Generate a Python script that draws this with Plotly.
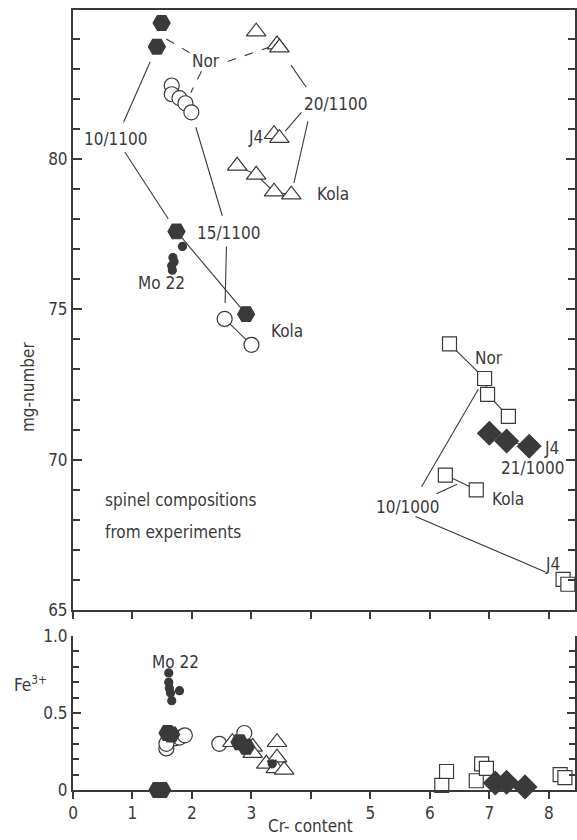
import plotly.graph_objects as go

# ---- upper panel: mg-number vs Cr-content ----
hex_x = [1.49, 1.41, 1.74, 2.91]          # 10/1100 runs (filled hexagons)
hex_y = [84.52, 83.73, 77.59, 74.84]
mo_x = [1.84, 1.68, 1.70, 1.66, 1.67]     # Mo 22 (small filled dots)
mo_y = [77.09, 76.72, 76.58, 76.45, 76.30]
circ_x = [1.66, 1.66, 1.79, 1.89, 1.99]   # 15/1100 Nor (open circles)
circ_y = [82.44, 82.15, 82.02, 81.85, 81.55]
circk_x = [2.55, 3.00]                    # 15/1100 Kola
circk_y = [74.68, 73.82]
tri_x = [3.08, 3.43, 3.47]                # 20/1100 Nor (open triangles)
tri_y = [84.23, 83.80, 83.70]
trij_x = [3.38, 3.47]                     # 20/1100 J4
trij_y = [80.82, 80.69]
trik_x = [2.76, 3.08, 3.38, 3.67]         # 20/1100 Kola
trik_y = [79.77, 79.47, 78.91, 78.81]
sqn_x = [6.33, 6.92, 6.97, 7.32]          # 10/1000 Nor (open squares)
sqn_y = [73.85, 72.70, 72.17, 71.44]
sqk_x = [6.26, 6.78]                      # 10/1000 Kola
sqk_y = [69.49, 69.00]
sqj_x = [8.24, 8.32]                      # 10/1000 J4
sqj_y = [66.02, 65.86]
dia_x = [7.00, 7.29, 7.67]                # 21/1000 J4 (filled diamonds)
dia_y = [70.88, 70.62, 70.45]

# ---- lower panel: Fe3+ vs Cr-content ----
b_dot_x = [1.61, 1.61, 1.62, 1.64, 1.66, 1.79, 3.35]
b_dot_y = [0.76, 0.70, 0.66, 0.63, 0.58, 0.645, 0.17]
b_hex_x = [1.59, 1.65, 1.42, 1.50, 2.80, 2.91]
b_hex_y = [0.37, 0.36, 0.0, 0.0, 0.31, 0.28]
b_circ_x = [1.57, 1.60, 1.71, 1.79, 1.88, 1.57, 2.46, 2.88]
b_circ_y = [0.27, 0.32, 0.335, 0.34, 0.355, 0.30, 0.30, 0.37]
b_tri_x = [2.68, 3.02, 3.02, 3.25, 3.43, 3.43, 3.41, 3.55]
b_tri_y = [0.31, 0.28, 0.24, 0.17, 0.31, 0.21, 0.14, 0.13]
b_sq_x = [6.28, 6.20, 6.78, 6.87, 6.95, 8.19, 8.27]
b_sq_y = [0.12, 0.03, 0.06, 0.17, 0.14, 0.10, 0.08]
b_dia_x = [7.10, 7.29, 7.60]
b_dia_y = [0.045, 0.05, 0.02]

# labelled x ticks (4 sits under the axis title, so it only gets a tick mark)
x_ticks = [0, 1, 2, 3, 5, 6, 7, 8]
x_ticktext = ["0", "1", "2", "3", "5", "6", "7", "8"]

INK = "#3a3a3a"
FONT = "Liberation Sans Narrow, DejaVu Sans Condensed, Liberation Sans, sans-serif"
FS = 17

fig = go.Figure()


def pt(xs, ys, i):
    return xs[i], ys[i]


def mid(a, b):
    return (a[0] + b[0]) / 2, (a[1] + b[1]) / 2


def leader(start, target, t, dash="solid"):
    x0, y0 = start
    x1, y1 = target
    fig.add_trace(go.Scatter(
        x=[x0, x0 + (x1 - x0) * t], y=[y0, y0 + (y1 - y0) * t],
        mode="lines", line=dict(color=INK, width=1.1, dash=dash),
        xaxis="x2", yaxis="y2", hoverinfo="skip", showlegend=False))


def link(xs, ys, axis=("x2", "y2")):
    fig.add_trace(go.Scatter(x=xs, y=ys, mode="lines",
                             line=dict(color=INK, width=1.1),
                             xaxis=axis[0], yaxis=axis[1],
                             hoverinfo="skip", showlegend=False))


# leader lines from labels to the runs they name
leader((0.85, 81.22), pt(hex_x, hex_y, 1), 0.80)
leader((0.87, 80.23), pt(hex_x, hex_y, 2), 0.84)
leader((1.96, 83.53), mid(pt(hex_x, hex_y, 0), pt(hex_x, hex_y, 1)), 0.83, "dash")
leader((2.60, 83.24), pt(tri_x, tri_y, 1), 0.85, "dash")
leader((2.16, 82.91), pt(circ_x, circ_y, 3), 0.66, "dash")
leader((2.51, 78.11), pt(circ_x, circ_y, 4), 0.855)
leader((2.58, 77.09), pt(circk_x, circk_y, 0), 0.78)
leader((3.92, 82.38), pt(tri_x, tri_y, 1), 0.52)
leader((3.84, 81.55), pt(trij_x, trij_y, 1), 0.73)
leader((3.95, 81.25), pt(trik_x, trik_y, 3), 0.84)
leader((5.86, 69.10), pt(sqn_x, sqn_y, 1), 0.90)
leader((6.11, 68.87), mid(pt(sqk_x, sqk_y, 0), pt(sqk_x, sqk_y, 1)), 0.85)
leader((5.76, 68.11), pt(sqj_x, sqj_y, 0), 0.88)

# lines joining members of one run
link(hex_x[2:4], hex_y[2:4])
link(circk_x, circk_y)
link(trik_x, trik_y)
link(sqn_x, sqn_y)
link(sqk_x, sqk_y)
link(dia_x, dia_y)


def marks(xs, ys, symbol, size, filled, axis):
    fig.add_trace(go.Scatter(
        x=xs, y=ys, mode="markers", xaxis=axis[0], yaxis=axis[1],
        cliponaxis=False, showlegend=False,
        marker=dict(symbol=symbol, size=size,
                    color=INK if filled else "white",
                    line=dict(color=INK, width=1.2))))


top = ("x2", "y2")
bot = ("x", "y")
marks(circ_x, circ_y, "circle", 15, False, top)
marks(circk_x, circk_y, "circle", 15, False, top)
marks(tri_x, tri_y, "triangle-up", 17, False, top)
marks(trij_x, trij_y, "triangle-up", 17, False, top)
marks(trik_x, trik_y, "triangle-up", 17, False, top)
marks(sqn_x, sqn_y, "square", 14, False, top)
marks(sqk_x, sqk_y, "square", 14, False, top)
marks(sqj_x, sqj_y, "square", 14, False, top)
marks(dia_x, dia_y, "diamond", 18, True, top)
marks(hex_x, hex_y, "hexagon2", 17, True, top)
marks(mo_x, mo_y, "circle", 8, True, top)

marks(b_circ_x, b_circ_y, "circle", 15, False, bot)
marks(b_tri_x, b_tri_y, "triangle-up", 17, False, bot)
marks(b_sq_x, b_sq_y, "square", 14, False, bot)
marks(b_dia_x, b_dia_y, "diamond", 18, True, bot)
marks(b_hex_x, b_hex_y, "hexagon2", 17, True, bot)
marks(b_dot_x, b_dot_y, "circle", 8, True, bot)

# text labels in the upper panel
labels = [
    ("10/1100", 0.72, 80.66, "center"),
    ("Nor", 2.24, 83.24, "center"),
    ("15/1100", 2.63, 77.55, "center"),
    ("20/1100", 4.42, 81.82, "center"),
    ("J4", 3.06, 80.72, "center"),
    ("Kola", 4.37, 78.84, "center"),
    ("Mo 22", 1.49, 75.87, "center"),
    ("Kola", 3.60, 74.28, "center"),
    ("spinel compositions", 0.50, 68.67, "left"),
    ("from experiments", 0.50, 67.61, "left"),
    ("Nor", 7.00, 73.39, "center"),
    ("J4", 8.04, 70.38, "center"),
    ("21/1000", 7.74, 69.72, "center"),
    ("10/1000", 5.63, 68.44, "center"),
    ("Kola", 7.32, 68.70, "center"),
    ("J4", 8.07, 66.55, "center"),
]
annotations = []
for text, x, y, anchor in labels:
    annotations.append(dict(text=text, x=x, y=y, xref="x2", yref="y2",
                            xanchor=anchor, yanchor="middle", showarrow=False,
                            font=dict(family=FONT, size=FS, color=INK)))
annotations.append(dict(text="Mo 22", x=1.72, y=0.83, xref="x", yref="y",
                        xanchor="center", yanchor="middle",
                        showarrow=False, font=dict(family=FONT, size=FS, color=INK)))

# axis titles
annotations += [
    dict(text="mg-number", x=-0.091, y=0.517, xref="paper", yref="paper",
         xanchor="center", yanchor="middle", textangle=-90, showarrow=False,
         font=dict(family=FONT, size=FS, color=INK)),
    dict(text="Fe<sup>3+</sup>", x=-0.085, y=0.136, xref="paper", yref="paper",
         xanchor="center", yanchor="middle", showarrow=False,
         font=dict(family=FONT, size=FS, color=INK)),
    dict(text="Cr- content", x=0.474, y=-0.046, xref="paper", yref="paper",
         xanchor="center", yanchor="middle", showarrow=False,
         font=dict(family=FONT, size=FS, color=INK)),
]

axis_common = dict(showline=True, linecolor=INK, linewidth=2, showgrid=False,
                   zeroline=False, tickcolor=INK, tickwidth=1.5,
                   tickfont=dict(family=FONT, size=FS, color=INK))

fig.update_layout(
    width=577, height=840,
    margin=dict(l=73, r=0, t=5, b=50),
    plot_bgcolor="white", paper_bgcolor="white",
    showlegend=False,
    annotations=annotations,
    xaxis=dict(domain=[0, 1], range=[0, 8.44], anchor="y",
               tickvals=x_ticks, ticktext=x_ticktext,
               ticks="outside", ticklen=7, mirror=False,
               minor=dict(dtick=1, tick0=0, ticks="outside", ticklen=7,
                          tickcolor=INK, tickwidth=1.5),
               **axis_common),
    yaxis=dict(domain=[0, 0.1975], range=[0, 1.0], anchor="x",
               tickvals=[0, 0.5, 1.0], ticktext=["0", "0.5", "1.0"],
               ticks="inside", ticklen=8, mirror="ticks",
               minor=dict(dtick=0.1, ticks="inside", ticklen=6, tickcolor=INK),
               **axis_common),
    xaxis2=dict(domain=[0, 1], range=[0, 8.44], anchor="y2", matches="x",
                dtick=1, tick0=0, showticklabels=False,
                ticks="outside", ticklen=7, mirror=True, **axis_common),
    yaxis2=dict(domain=[0.2306, 1], range=[65, 84.95], anchor="x2",
                tickvals=[65, 70, 75, 80], ticks="inside", ticklen=9,
                mirror="ticks",
                minor=dict(dtick=1, ticks="inside", ticklen=7, tickcolor=INK),
                **axis_common),
)

fig.write_html("out.html")
